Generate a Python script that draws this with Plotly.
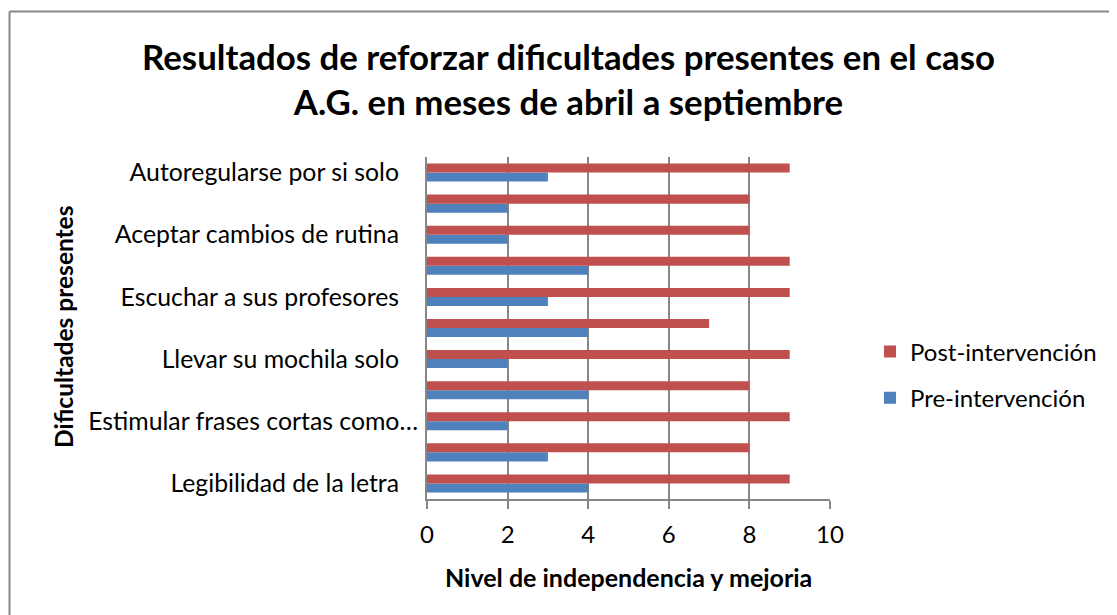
import plotly.graph_objects as go

# Data (bottom to top, as in the chart)
categories = [
    "Legibilidad de la letra",
    "",
    "Estimular frases cortas como…",
    "",
    "Llevar su mochila solo",
    "",
    "Escuchar a sus profesores",
    "",
    "Aceptar cambios de rutina",
    "",
    "Autoregularse por si solo",
]
pre_values = [4, 3, 2, 4, 2, 4, 3, 4, 2, 2, 3]
post_values = [9, 8, 9, 8, 9, 7, 9, 9, 8, 8, 9]
x_ticks = [0, 2, 4, 6, 8, 10]

OFF = 8  # page offset of the figure inside the browser window
W, H = 1117, 615
# target plot area in screen pixels
SX0, SX1, SY0, SY1 = 427, 830, 157, 499
ML = SX0 - OFF
MT = SY0 - OFF
MR = W + OFF - SX1
MB = H + OFF - SY1
PW, PH = SX1 - SX0, SY1 - SY0

FONT = "Lato, 'Open Sans', sans-serif"
BLUE = "#4F81BD"
RED = "#C0504D"
GRAY = "#878787"

pos = list(range(len(categories)))

fig = go.Figure()
fig.add_trace(go.Bar(
    y=pos, x=pre_values, orientation="h", name="Pre-intervención",
    marker=dict(color=BLUE, line=dict(width=0)), legendgroup="pre", legendrank=2,
))
fig.add_trace(go.Bar(
    y=pos, x=post_values, orientation="h", name="Post-intervención",
    marker=dict(color=RED, line=dict(width=0)), legendgroup="post", legendrank=1,
))

def px_x(p):
    return (p - SX0) / PW

def px_y(p):
    return (SY1 - p) / PH

frame_x = px_x(9.5)
frame_y = px_y(11.5)

# Excel pads normal labels a bit more from the axis than the truncated one
pad = "\u00a0" * 3
tick_text = [c if c.endswith("…") else c + pad for c in categories if c]

fig.update_layout(
    width=W, height=H,
    margin=dict(l=ML, r=MR, t=MT, b=MB, autoexpand=False),
    paper_bgcolor="white", plot_bgcolor="white",
    barmode="group", bargap=0.42, bargroupgap=0,
    font=dict(family=FONT, color="#000000", size=24),
    title=dict(
        text="<b>Resultados de reforzar dificultades presentes en el caso<br>A.G. en meses de abril a septiembre</b>",
        x=(568.5 - OFF) / W, xanchor="center", y=1 - (69.5 - OFF) / H, yanchor="middle",
        font=dict(family=FONT, size=34.8, color="#000000"),
    ),
    xaxis=dict(
        range=[0, 10], tickvals=x_ticks, ticktext=[str(v) for v in x_ticks],
        showgrid=True, gridcolor=GRAY, gridwidth=2,
        showline=True, linecolor=GRAY, linewidth=2,
        ticks="outside", ticklen=8, tickcolor=GRAY, tickwidth=2,
        zeroline=False,
        tickfont=dict(size=24, family=FONT),
        ticklabelstandoff=5,
    ),
    yaxis=dict(
        range=[-0.5, len(categories) - 0.5],
        tickvals=[p for p, c in zip(pos, categories) if c],
        ticktext=tick_text,
        showgrid=False, showline=True, linecolor=GRAY, linewidth=2,
        ticks="", zeroline=False,
        tickfont=dict(size=24.8, family=FONT),
        ticklabelstandoff=2,
    ),
    legend=dict(
        x=px_x(870), y=px_y(375), xanchor="left", yanchor="middle",
        traceorder="grouped", tracegroupgap=12,
        font=dict(size=24, family=FONT), bgcolor="rgba(0,0,0,0)",
        itemwidth=30,
    ),
    annotations=[
        dict(text="<b>Nivel de independencia y mejoria</b>", xref="paper", yref="paper",
             x=px_x(628.5), y=px_y(577), xanchor="center", yanchor="middle",
             showarrow=False, font=dict(size=25, family=FONT)),
        dict(text="<b>Dificultades presentes</b>", xref="paper", yref="paper",
             x=px_x(63), y=px_y(327), xanchor="center", yanchor="middle",
             textangle=-90, showarrow=False, font=dict(size=24.5, family=FONT)),
    ],
    shapes=[
        dict(type="line", xref="paper", yref="paper", x0=frame_x, x1=frame_x,
             y0=px_y(640), y1=frame_y, line=dict(color=GRAY, width=2)),
        dict(type="line", xref="paper", yref="paper", x0=frame_x, x1=px_x(1140),
             y0=frame_y, y1=frame_y, line=dict(color=GRAY, width=2)),
    ],
)

fig.write_html("out.html")
